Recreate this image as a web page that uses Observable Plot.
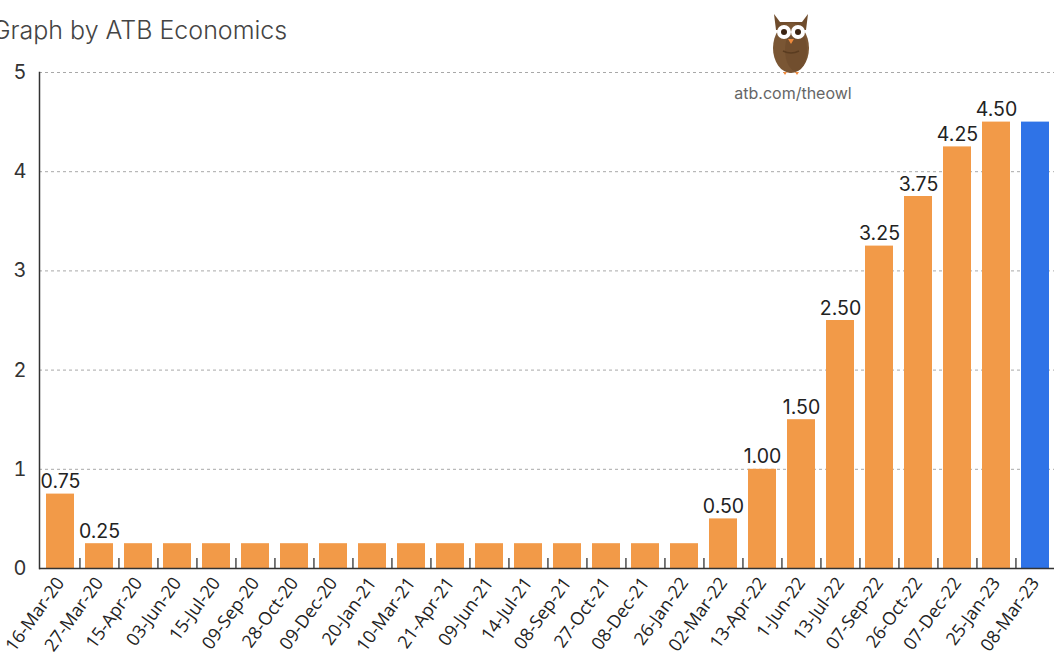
<!DOCTYPE html>
<html>
<head>
<meta charset="utf-8">
<script src="https://cdn.jsdelivr.net/npm/d3@7"></script>
<script src="https://cdn.jsdelivr.net/npm/@observablehq/plot@0.6"></script>
<style>
  html, body { margin: 0; padding: 0; background: #fff; overflow: hidden; }
  #wrap { position: relative; width: 1054px; height: 663px; }
  #title { position: absolute; left: -8px; top: 15px; font-family: Inter, sans-serif; font-weight: 300; font-size: 25px; color: #444; white-space: nowrap; }
  #owl { position: absolute; left: 768px; top: 8px; }
  #url { position: absolute; left: 730px; top: 83px; width: 126px; text-align: center; font-family: Inter, sans-serif; font-size: 16px; color: #666; }
  #chart { position: absolute; left: 0; top: 0; }
</style>
</head>
<body>
<div id="wrap">
  <div id="chart"></div>
  <div id="title">Graph by ATB Economics</div>
  <svg id="owl" width="46" height="68" viewBox="0 0 46 68">
    <path d="M6 6 L12 14 L34 14 L40 6 L38 22 L8 22 Z" fill="#6f4c2c"/>
    <ellipse cx="23" cy="40" rx="18" ry="25" fill="#7a5634"/>
    <ellipse cx="28" cy="42" rx="11" ry="21" fill="#6a4a2b" opacity="0.6"/>
    <circle cx="16" cy="24" r="7" fill="#fff"/>
    <circle cx="30" cy="24" r="7" fill="#fff"/>
    <circle cx="16" cy="24" r="3" fill="#3b2412"/>
    <circle cx="30" cy="24" r="3" fill="#3b2412"/>
    <path d="M20 31 L26 31 L23 36 Z" fill="#f08a3c"/>
    <path d="M15 43 Q23 47 31 43" stroke="#5a3c20" stroke-width="1.5" fill="none"/>
    <path d="M15 64 L19 64 L17 67 Z M27 64 L31 64 L29 67 Z" fill="#f08a3c"/>
  </svg>
  <div id="url">atb.com/theowl</div>
</div>
<script>
const dates = ["16-Mar-20","27-Mar-20","15-Apr-20","03-Jun-20","15-Jul-20","09-Sep-20","28-Oct-20","09-Dec-20","20-Jan-21","10-Mar-21","21-Apr-21","09-Jun-21","14-Jul-21","08-Sep-21","27-Oct-21","08-Dec-21","26-Jan-22","02-Mar-22","13-Apr-22","1-Jun-22","13-Jul-22","07-Sep-22","26-Oct-22","07-Dec-22","25-Jan-23","08-Mar-23"];
const rates = [0.75,0.25,0.25,0.25,0.25,0.25,0.25,0.25,0.25,0.25,0.25,0.25,0.25,0.25,0.25,0.25,0.25,0.50,1.00,1.50,2.50,3.25,3.75,4.25,4.50,4.50];
const valueLabels = ["0.75","0.25",null,null,null,null,null,null,null,null,null,null,null,null,null,null,null,"0.50","1.00","1.50","2.50","3.25","3.75","4.25","4.50",null];
const status = ["past","past","past","past","past","past","past","past","past","past","past","past","past","past","past","past","past","past","past","past","past","past","past","past","past","latest"];
const yTicks = [0,1,2,3,4,5];

const data = dates.map((d, i) => ({date: d, rate: rates[i], label: valueLabels[i], status: status[i]}));

const xRange = [39, 1057];
const pIn = 0.28, pOut = 0.15;
const step = (xRange[1] - xRange[0]) / (dates.length - pIn + 2 * pOut);

const chart = Plot.plot({
  width: 1054,
  height: 663,
  marginTop: 72,
  marginBottom: 95,
  marginLeft: 39,
  marginRight: 0,
  style: {background: "transparent"},
  x: {domain: dates, range: xRange, paddingInner: pIn, paddingOuter: pOut, label: null},
  y: {domain: [0, 5], label: null},
  color: {domain: ["past", "latest"], range: ["#f29a48", "#2f73e7"]},
  marks: [
    Plot.gridY(yTicks.slice(1), {stroke: "#a8a8a8", strokeOpacity: 1, strokeDasharray: "3,3", strokeWidth: 1}),
    Plot.barY(data, {x: "date", y: "rate", fill: "status"}),
    Plot.ruleY([0], {stroke: "#333", strokeWidth: 1.5}),
    Plot.ruleX(dates.slice(1), {x: d => d, dx: -step / 2, y1: 0, y2: 0.1, stroke: "#333", strokeWidth: 1.3}),
    Plot.frame({anchor: "left", stroke: "#333", strokeWidth: 1.5}),
    Plot.text(data.filter(d => d.label), {x: "date", y: "rate", text: "label", dy: -6, lineAnchor: "bottom", fontSize: 19.5, fill: "#222", fontFamily: "Inter, sans-serif"}),
    Plot.axisY(yTicks, {tickSize: 0, tickPadding: 13, tickFormat: d3.format("d"), fontSize: 20, fill: "#333", fontFamily: "Inter, sans-serif"}),
    Plot.axisX({tickSize: 0, tickRotate: -54, tickPadding: 11, fontSize: 18, fill: "#222", fontFamily: "'Open Sans', sans-serif"})
  ]
});
document.getElementById("chart").appendChild(chart);
</script>
</body>
</html>
